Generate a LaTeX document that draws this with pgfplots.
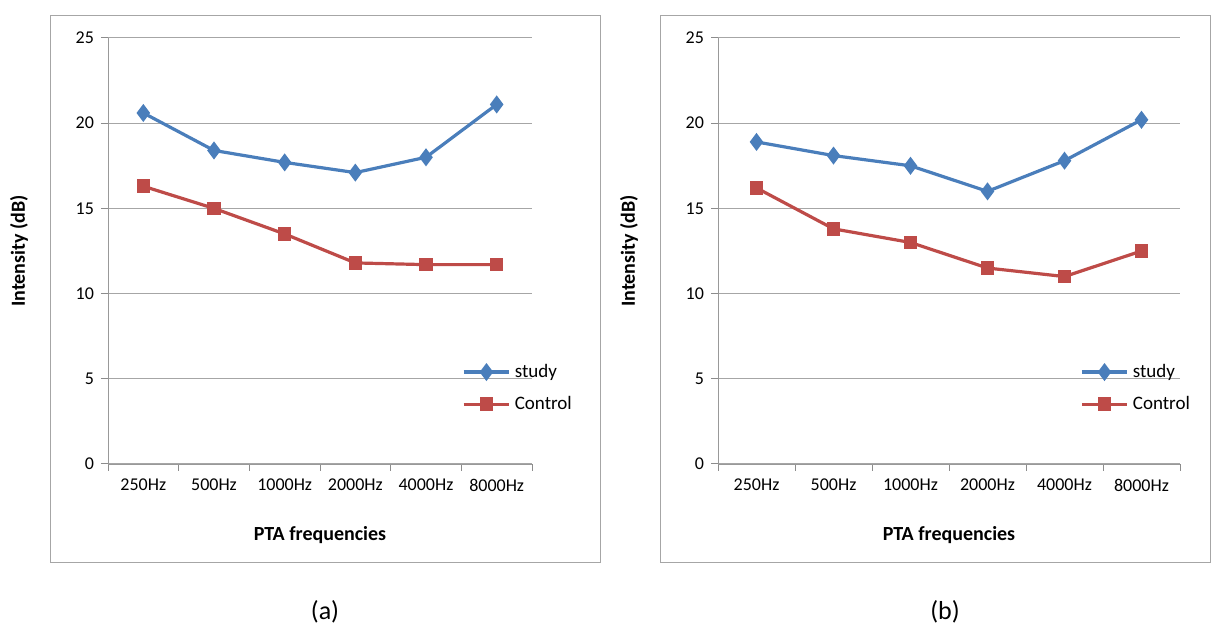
\documentclass[border=0pt]{standalone}
\usepackage{pgfplots}
\pgfplotsset{compat=1.18}
\usepackage{fontspec}
\setmainfont{Carlito}
\definecolor{sblue}{HTML}{4A7EBB}
\definecolor{cred}{HTML}{BE4B48}
\pgfplotsset{
 panel/.style={
  scale only axis, width=212pt, height=213pt,
  xmin=-0.5, xmax=5.5, ymin=0, ymax=25, ytick={0,5,...,25},
  xtick={-0.5,0.5,...,5.5}, xticklabels={},
  extra x ticks={0,...,5}, extra x tick labels={250Hz,500Hz,1000Hz,2000Hz,4000Hz,8000Hz},
  extra x tick style={major tick length=0pt, grid=none, tick label style={yshift=-4pt}},
  axis x line*=bottom, axis y line*=left, axis line style={draw=gray!80, -},
  ymajorgrids, grid style={gray!70, line width=0.5pt},
  tick style={draw=gray!90, line width=0.5pt}, tick align=outside, major tick length=3.5pt,
  /pgf/number format/assume math mode=true,
  tick label style={font=\fontsize{9}{10}\selectfont},
  xlabel={\textbf{PTA frequencies}}, ylabel={\textbf{Intensity (dB)}},
  label style={font=\fontsize{10}{11}\selectfont},
  xlabel style={yshift=-7pt}, ylabel style={yshift=17pt},
  legend style={draw=none, fill=none, font=\fontsize{9.5}{11}\selectfont, anchor=west, row sep=4pt, cells={anchor=west}},
  legend image code/.code={\draw[#1] (0,0)--(0.8cm,0); \draw[#1] plot coordinates {(0.4cm,0)};},
  clip=false,
 },
 study/.style={sblue, line width=1.6pt, mark=diamond*, mark size=3.2pt, mark options={solid}},
 ctrl/.style={cred, line width=1.6pt, mark=square*, mark size=2.6pt},
}
\begin{document}
\begin{tikzpicture}
\path (0,0) rectangle (606.5pt,314.5pt);
\draw[gray!70] (25pt,33.5pt) rectangle (300pt,307pt);
\draw[gray!70] (330pt,33.5pt) rectangle (605pt,307pt);
\begin{axis}[panel, at={(54pt,82.5pt)}, anchor=south west,
  legend style={at={(0.82,0.178)}}]
\addplot[study] coordinates {(0,20.6)(1,18.4)(2,17.7)(3,17.1)(4,18.0)(5,21.1)};
\addlegendentry{study}
\addplot[ctrl] coordinates {(0,16.3)(1,15.0)(2,13.5)(3,11.8)(4,11.7)(5,11.7)};
\addlegendentry{Control}
\end{axis}
\begin{axis}[panel, at={(359pt,82.5pt)}, anchor=south west, width=231pt,
  legend style={at={(0.77,0.178)}}]
\addplot[study] coordinates {(0,18.9)(1,18.1)(2,17.5)(3,16.0)(4,17.8)(5,20.2)};
\addlegendentry{study}
\addplot[ctrl] coordinates {(0,16.2)(1,13.8)(2,13.0)(3,11.5)(4,11.0)(5,12.5)};
\addlegendentry{Control}
\end{axis}
\node[font=\fontsize{13}{14}\selectfont] at (162.5pt,8.5pt) {(a)};
\node[font=\fontsize{13}{14}\selectfont] at (472.5pt,8.5pt) {(b)};
\end{tikzpicture}
\end{document}
